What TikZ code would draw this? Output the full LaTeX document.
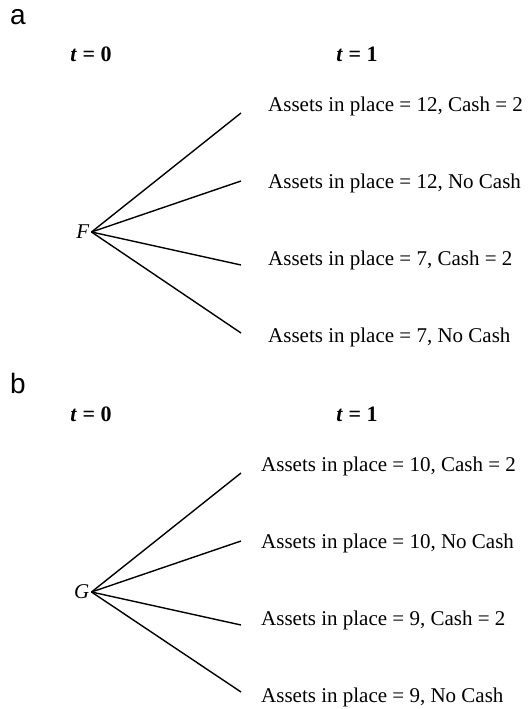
\documentclass[tikz,border=0pt]{standalone}
\usepackage{fontspec}
\setmainfont{Liberation Serif}
\setsansfont{Liberation Sans}
\begin{document}
\begin{tikzpicture}[x=1pt,y=1pt,
  outcome/.style={anchor=west,inner sep=0pt,font=\fontsize{21}{24}\selectfont},
  timelbl/.style={inner sep=0pt,font=\fontsize{22}{25}\selectfont\bfseries},
  rootlbl/.style={anchor=east,inner sep=2pt,font=\fontsize{21}{24}\selectfont\itshape},
  panel/.style={anchor=base west,inner sep=0pt,font=\fontsize{28}{32}\selectfont\sffamily},
  branch/.style={draw=black,line width=1.4pt}]
\useasboundingbox (0,0) rectangle (528,-709);
% panel a
\node[panel] (la) at (10,-25) {a};
\node[timelbl] (a0) at (91,-54) {\textit{t} = 0};
\node[timelbl] (a1) at (357,-54) {\textit{t} = 1};
\node[rootlbl] (F) at (91.5,-232) {F};
\coordinate (ae1) at (241,-113);
\coordinate (ae2) at (241,-181);
\coordinate (ae3) at (241,-265);
\coordinate (ae4) at (241,-333);
\node[outcome] (at1) at (268,-106) {Assets in place = 12, Cash = 2};
\node[outcome] (at2) at (268,-183) {Assets in place = 12, No Cash};
\node[outcome] (at3) at (268,-260) {Assets in place = 7, Cash = 2};
\node[outcome] (at4) at (268,-337) {Assets in place = 7, No Cash};
\foreach \i in {1,...,4} \draw[branch] (F.east) -- (ae\i);
% panel b
\node[panel] (lb) at (10,-393) {b};
\node[timelbl] (b0) at (91,-414) {\textit{t} = 0};
\node[timelbl] (b1) at (357,-414) {\textit{t} = 1};
\node[rootlbl] (G) at (91.5,-592) {G};
\coordinate (be1) at (241,-473);
\coordinate (be2) at (241,-541);
\coordinate (be3) at (241,-625);
\coordinate (be4) at (241,-692);
\node[outcome] (bt1) at (261,-466) {Assets in place = 10, Cash = 2};
\node[outcome] (bt2) at (261,-543) {Assets in place = 10, No Cash};
\node[outcome] (bt3) at (261,-620) {Assets in place = 9, Cash = 2};
\node[outcome] (bt4) at (261,-697) {Assets in place = 9, No Cash};
\foreach \i in {1,...,4} \draw[branch] (G.east) -- (be\i);
\end{tikzpicture}
\end{document}
